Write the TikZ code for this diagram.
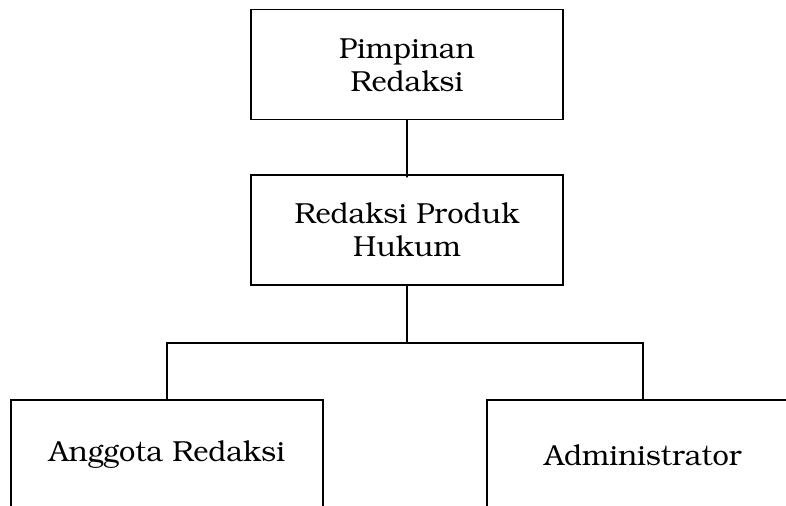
\documentclass[tikz,border=0pt]{standalone}
\usepackage[T1]{fontenc}
\usepackage{bookman}
\begin{document}
\begin{tikzpicture}[line width=0.8pt,
    every node/.style={draw,align=center,minimum width=156pt,minimum height=55pt,
        font=\fontsize{14.5}{16.5}\selectfont},
    level 1/.style={level distance=82.75pt},
    level 2/.style={level distance=112.5pt,sibling distance=238pt},
    edge from parent path={(\tikzparentnode.south) -- ++(0,-28.5pt) -| (\tikzchildnode.north)}]
 \useasboundingbox (-203.5pt,32.25pt) rectangle (189.5pt,-220.25pt);
 \node (pimpinan) {Pimpinan\\Redaksi}
    child {
        node (produk) {Redaksi Produk\\Hukum}
        child { node[xshift=-1pt] (anggota) {Anggota Redaksi} }
        child { node[xshift=-1pt] (admin) {Administrator} }
    };
\end{tikzpicture}
\end{document}
